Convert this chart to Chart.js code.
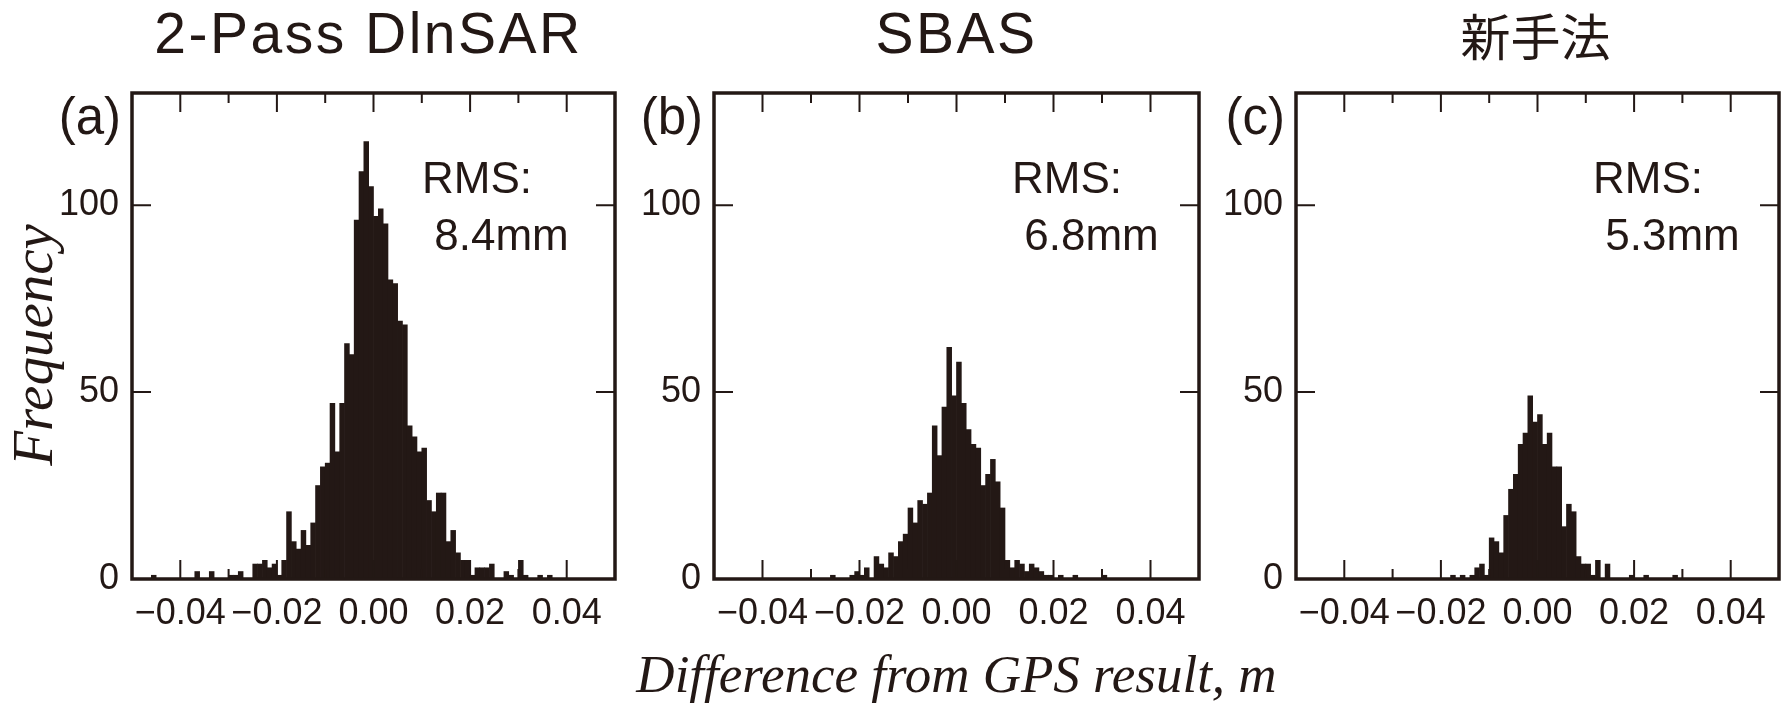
<!DOCTYPE html>
<html lang="ja">
<head>
<meta charset="utf-8">
<title>Difference from GPS result – frequency histograms</title>
<script src="https://cdn.jsdelivr.net/npm/chart.js@4.4.1/dist/chart.umd.min.js"></script>
<style>
  html, body { margin: 0; padding: 0; background: #fff; }
  #wrap { position: relative; width: 1790px; height: 705px; overflow: hidden; }
  #wrap canvas { position: absolute; left: 0; top: 0; }
</style>
</head>
<body>
<div id="wrap">
  <canvas id="hist-a" width="1790" height="705"></canvas>
  <canvas id="hist-b" width="1790" height="705"></canvas>
  <canvas id="hist-c" width="1790" height="705"></canvas>
</div>
<script>
// histogram bins are 1 mm wide, from -0.050 m to +0.050 m (100 bins)
const binStart = -0.05;
const binWidth = 0.001;

const titles = ['2-Pass DlnSAR', 'SBAS', '新手法'];
const panelLetters = ['(a)', '(b)', '(c)'];
const rmsLabels = ['8.4mm', '6.8mm', '5.3mm'];

// counts per bin, left to right
const countsDinsar = [
  0, 0, 0, 0, 1, 0, 0, 0, 0, 0,
  0, 0, 0, 2, 0, 0, 2, 0, 0, 0,
  1, 1, 2, 0, 0, 4, 4, 5, 3, 4,
  1, 5, 18, 10, 8, 13, 9, 15, 25, 30,
  31, 47, 34, 47, 63, 60, 96, 109, 117, 105,
  97, 99, 95, 80, 79, 69, 68, 41, 38, 34,
  35, 21, 18, 23, 23, 10, 13, 7, 5, 5,
  1, 3, 3, 3, 4, 0, 0, 2, 1, 0,
  5, 1, 0, 0, 1, 0, 1, 0, 0, 0,
  0, 0, 0, 0, 0, 0, 0, 0, 0, 0
];
const countsSbas = [
  0, 0, 0, 0, 0, 0, 0, 0, 0, 0,
  0, 0, 0, 0, 0, 0, 0, 0, 0, 0,
  0, 0, 0, 0, 1, 0, 0, 0, 1, 2,
  1, 3, 0, 6, 4, 3, 7, 6, 10, 12,
  19, 15, 21, 20, 23, 41, 33, 46, 62, 49,
  58, 47, 40, 36, 35, 25, 28, 32, 26, 19,
  5, 3, 5, 4, 2, 4, 3, 2, 1, 1,
  0, 1, 0, 0, 1, 0, 0, 0, 0, 0,
  1, 0, 0, 0, 0, 0, 0, 0, 0, 0,
  0, 0, 0, 0, 0, 0, 0, 0, 0, 0
];
const countsNew = [
  0, 0, 0, 0, 0, 0, 0, 0, 0, 0,
  0, 0, 0, 0, 0, 0, 0, 0, 0, 0,
  0, 0, 0, 0, 0, 0, 0, 0, 0, 0,
  0, 0, 1, 0, 1, 0, 1, 3, 4, 1,
  11, 10, 7, 17, 24, 28, 36, 39, 49, 42,
  44, 36, 39, 30, 30, 14, 20, 18, 6, 4,
  4, 1, 5, 0, 4, 0, 0, 0, 0, 1,
  0, 0, 1, 0, 0, 0, 0, 0, 1, 0,
  0, 0, 0, 0, 0, 0, 0, 0, 0, 0,
  0, 0, 0, 0, 0, 0, 0, 0, 0, 0
];

const xTicks = [-0.04, -0.03, -0.02, -0.01, 0, 0.01, 0.02, 0.03, 0.04];
const xTickLabels = ['−0.04', '', '−0.02', '', '0.00', '', '0.02', '', '0.04'];
const yTicks = [0, 50, 100];
const yTickLabels = ['0', '50', '100'];

const xTitle = 'Difference from GPS result, m';
const yTitle = 'Frequency';

// ---- layout / style ----
const W = 1790, H = 705;
const plotTop = 93, plotBottom = 579;
const ink = '#231815';
const sans = 'Liberation Sans, Arial, sans-serif';
const serif = 'Liberation Serif, Times New Roman, serif';

const binCenters = countsDinsar.map((_, i) => binStart + (i + 0.5) * binWidth);

// frame, inward ticks and the panel texts
const panelDecor = {
  id: 'panelDecor',
  afterDatasetsDraw(chart, args, o) {
    const { ctx, chartArea: a } = chart;
    const x = chart.scales.x, y = chart.scales.y;
    ctx.save();
    ctx.strokeStyle = ink;
    ctx.lineWidth = 2;
    ctx.beginPath();
    xTicks.forEach((v, i) => {
      const px = x.getPixelForValue(v);
      const len = xTickLabels[i] ? 19 : 10;
      ctx.moveTo(px, a.bottom); ctx.lineTo(px, a.bottom - len);
      ctx.moveTo(px, a.top); ctx.lineTo(px, a.top + len);
    });
    yTicks.forEach(v => {
      const py = y.getPixelForValue(v);
      ctx.moveTo(a.left, py); ctx.lineTo(a.left + 19, py);
      ctx.moveTo(a.right, py); ctx.lineTo(a.right - 19, py);
    });
    ctx.stroke();
    ctx.lineWidth = 3.5;
    ctx.strokeRect(a.left, a.top, a.right - a.left, a.bottom - a.top);

    ctx.fillStyle = ink;
    ctx.textBaseline = 'alphabetic';

    // panel title
    const cx = (a.left + a.right) / 2 + o.titleDx;
    ctx.textAlign = 'center';
    if (o.cjk) {
      ctx.font = '50px "Noto Sans CJK JP", sans-serif';
      ctx.fillText(o.title, cx, 56);
    } else {
      ctx.font = '57px ' + sans;
      ctx.letterSpacing = '2.5px';
      ctx.fillText(o.title, cx, 53);
      ctx.letterSpacing = '0px';
    }

    // panel letter
    ctx.textAlign = 'right';
    ctx.font = '51px ' + sans;
    ctx.fillText(o.letter, a.left - 11, 134);

    // RMS note
    ctx.textAlign = 'left';
    ctx.font = '44px ' + sans;
    ctx.fillText('RMS:', a.left + o.rmsX, 193);
    ctx.fillText(' ' + o.rms, a.left + o.rmsX, 250);

    // shared y-axis title, left of the first panel
    if (o.yTitle) {
      ctx.save();
      ctx.translate(52, 345);
      ctx.rotate(-Math.PI / 2);
      ctx.textAlign = 'center';
      ctx.font = 'italic 57px ' + serif;
      ctx.fillText(o.yTitle, 0, 0);
      ctx.restore();
    }

    // shared x-axis title, centred under the middle panel
    if (o.xTitle) {
      ctx.textAlign = 'center';
      ctx.font = 'italic 53px ' + serif;
      ctx.fillText(o.xTitle, (a.left + a.right) / 2, 692);
    }
    ctx.restore();
  }
};

function makePanel(cfg, k) {
  const yWidth = 100;
  return new Chart(document.getElementById(cfg.id), {
    type: 'bar',
    data: {
      datasets: [{
        data: binCenters.map((c, i) => ({ x: c, y: cfg.counts[i] })),
        backgroundColor: ink,
        borderWidth: 0,
        barPercentage: 1,
        categoryPercentage: 1
      }]
    },
    options: {
      responsive: false,
      animation: false,
      devicePixelRatio: 1,
      layout: { padding: { left: cfg.left - yWidth, right: W - cfg.right, top: plotTop, bottom: 0 } },
      plugins: {
        legend: { display: false },
        tooltip: { enabled: false },
        panelDecor: {
          title: titles[k], cjk: k === 2, titleDx: cfg.titleDx, letter: panelLetters[k],
          rms: rmsLabels[k], rmsX: cfg.rmsX,
          xTitle: k === 1 ? xTitle : null,
          yTitle: k === 0 ? yTitle : null
        }
      },
      scales: {
        x: {
          type: 'linear',
          min: binStart,
          max: binStart + binCenters.length * binWidth,
          offset: false,
          grid: { display: false },
          border: { display: false },
          afterBuildTicks: s => { s.ticks = xTicks.map(v => ({ value: v })); },
          afterFit: s => { s.height = H - plotBottom; },
          ticks: {
            autoSkip: false, maxRotation: 0, padding: 5, color: ink,
            font: { family: sans, size: 36 },
            callback: (v, i) => xTickLabels[i]
          }
        },
        y: {
          min: 0,
          max: 130,
          grid: { display: false },
          border: { display: false },
          afterBuildTicks: s => { s.ticks = yTicks.map(v => ({ value: v })); },
          afterFit: s => { s.width = yWidth; },
          ticks: {
            padding: 5, color: ink,
            font: { family: sans, size: 36 },
            callback: (v, i) => yTickLabels[i]
          }
        }
      }
    },
    plugins: [panelDecor]
  });
}

[
  { id: 'hist-a', counts: countsDinsar, left: 132, right: 615, rmsX: 290, titleDx: -5 },
  { id: 'hist-b', counts: countsSbas, left: 714, right: 1199, rmsX: 298, titleDx: 0 },
  { id: 'hist-c', counts: countsNew, left: 1296, right: 1779, rmsX: 297, titleDx: -2 }
].forEach(makePanel);
</script>
</body>
</html>
